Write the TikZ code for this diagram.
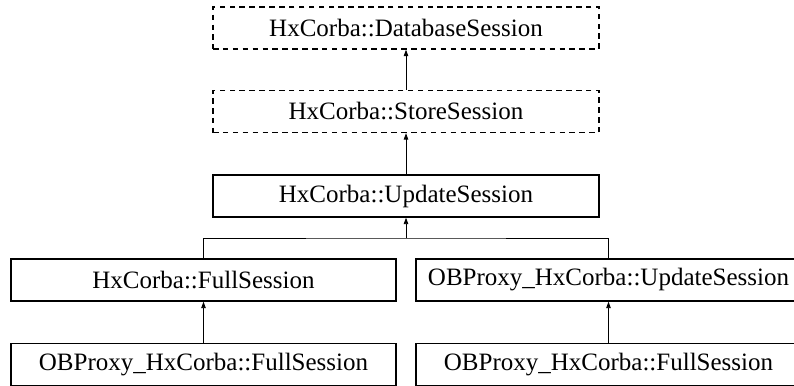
\documentclass[tikz,border=0pt]{standalone}
\usepackage{fontspec}
\setmainfont{Liberation Serif}
\usetikzlibrary{arrows.meta}
\begin{document}
\begin{tikzpicture}[x=1pt,y=-1pt,
  cls/.style={draw, line width=1.3pt, minimum height=42pt, inner sep=0pt, font=\fontsize{25}{30}\selectfont},
  wide/.style={minimum width=386pt},
  half/.style={minimum width=385pt},
  dsh/.style={dash pattern=on 5.5pt off 4.4pt},
  arr/.style={line width=0.9pt, -{Triangle[length=6.5pt,width=4.5pt]}},
  ln/.style={line width=0.9pt}]
\useasboundingbox (0,0) rectangle (794,385);
\node[cls,wide,dsh] (db) at (406,28) {HxCorba::DatabaseSession};
\node[cls,wide,dsh] (st) at (406,111.5) {HxCorba::StoreSession};
\node[cls,wide] (up) at (406,196) {HxCorba::UpdateSession};
\node[cls,half] (fs) at (203.5,280) {HxCorba::FullSession};
\node[cls,half] (ou) at (608.5,280) {OBProxy\_HxCorba::UpdateSession};
\node[cls,half] (of1) at (203.5,364.5) {OBProxy\_HxCorba::FullSession};
\node[cls,half] (of2) at (608.5,364.5) {OBProxy\_HxCorba::FullSession};
\coordinate (bus) at (406,238);
\draw[arr] (st.north) -- (db.south);
\draw[arr] (up.north) -- (st.south);
\draw[ln] (fs.north) |- (bus) -| (ou.north);
\draw[arr] (bus) -- (up.south);
\draw[arr] (of1.north) -- (fs.south);
\draw[arr] (of2.north) -- (ou.south);
\end{tikzpicture}
\end{document}
